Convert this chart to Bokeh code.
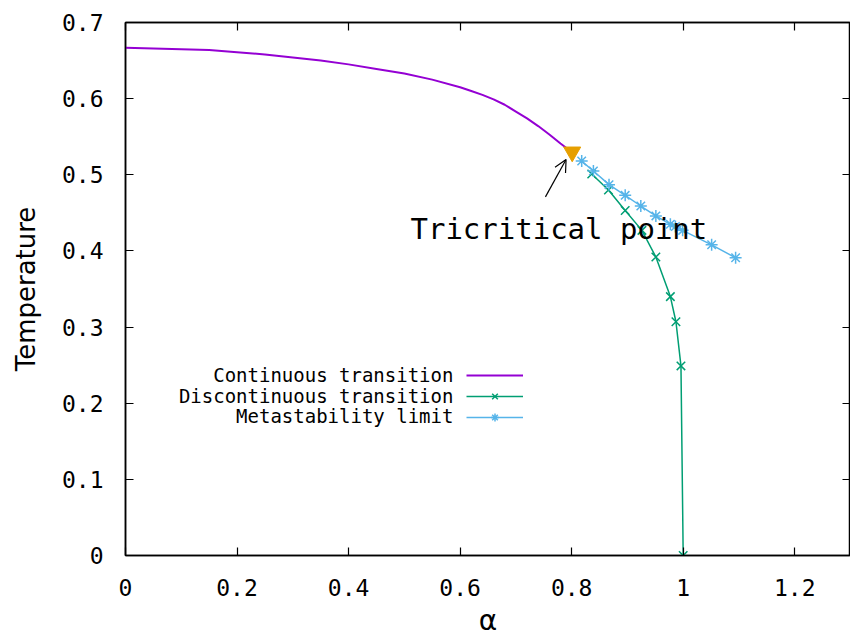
from bokeh.plotting import figure
from bokeh.models import (Range1d, LinearAxis, FixedTicker, Legend, LegendItem,
                          Label, Arrow, OpenHead)
from bokeh.embed import file_html
from bokeh.resources import INLINE

# Phase boundary data
cont_alpha = [0.0, 0.05, 0.1, 0.15, 0.2, 0.25, 0.3, 0.35, 0.4, 0.45, 0.5, 0.55,
              0.6, 0.62, 0.64, 0.66, 0.68, 0.7, 0.72, 0.74, 0.76, 0.78, 0.79, 0.8]
cont_temp = [0.667, 0.666, 0.665, 0.664, 0.661, 0.658, 0.654, 0.650, 0.645, 0.639,
             0.633, 0.625, 0.615, 0.610, 0.605, 0.599, 0.592, 0.583, 0.574, 0.564,
             0.553, 0.541, 0.5355, 0.530]

disc_alpha = [0.836, 0.866, 0.896, 0.926, 0.951, 0.977, 0.987, 0.996, 1.0]
disc_temp = [0.501, 0.480, 0.453, 0.427, 0.392, 0.340, 0.307, 0.249, 0.0]

meta_alpha = [0.818, 0.839, 0.867, 0.896, 0.924, 0.951, 0.977, 0.986, 0.999, 1.051, 1.094]
meta_temp = [0.518, 0.505, 0.487, 0.473, 0.459, 0.446, 0.435, 0.432, 0.427, 0.408, 0.391]

tri_alpha = [0.801]
tri_temp = [0.530]

x_ticks = [0, 0.2, 0.4, 0.6, 0.8, 1.0, 1.2]
x_tick_labels = ["0", "0.2", "0.4", "0.6", "0.8", "1", "1.2"]
y_ticks = [0, 0.1, 0.2, 0.3, 0.4, 0.5, 0.6, 0.7]
y_tick_labels = ["0", "0.1", "0.2", "0.3", "0.4", "0.5", "0.6", "0.7"]

series_names = ["Continuous transition", "Discontinuous transition", "Metastability limit"]

PURPLE = "#9400d3"
GREEN = "#009e73"
BLUE = "#56b4e9"
ORANGE = "#e69f00"
MONO = "DejaVu Sans Mono"

p = figure(width=850, height=644, output_backend="svg", toolbar_location=None,
           x_range=Range1d(0, 1.3), y_range=Range1d(0, 0.7),
           min_border_left=125, min_border_right=0, min_border_top=22,
           min_border_bottom=89, x_axis_label="α", y_axis_label="Temperature")
p.xgrid.visible = False
p.ygrid.visible = False
p.outline_line_color = "black"
p.outline_line_width = 1.5
p.outline_line_alpha = 1.0
p.background_fill_color = "white"
p.border_fill_color = "white"


def style_axis(ax, ticks, labels, show_labels=True):
    ax.ticker = FixedTicker(ticks=ticks)
    ax.major_tick_in = 8
    ax.major_tick_out = 0
    ax.minor_tick_in = 0
    ax.minor_tick_out = 0
    ax.major_tick_line_color = "black"
    ax.major_tick_line_width = 1.2
    ax.axis_line_color = "black"
    ax.axis_line_width = 1.5
    if show_labels:
        ax.major_label_overrides = {t: l for t, l in zip(ticks, labels)}
        ax.major_label_text_font = MONO
        ax.major_label_text_font_size = "23px"
        ax.major_label_text_color = "black"
    else:
        # tick marks only, no label text at all
        ax.major_label_text_color = None
        ax.major_label_text_alpha = 0
        ax.major_label_text_font_size = "0px"
        ax.major_label_standoff = 0


xa = p.xaxis[0]
ya = p.yaxis[0]
style_axis(xa, x_ticks, x_tick_labels)
style_axis(ya, y_ticks, y_tick_labels)
xa.major_label_standoff = 23
ya.major_label_standoff = 22
xa.axis_label_text_font = "DejaVu Sans"
xa.axis_label_text_font_size = "28px"
xa.axis_label_text_font_style = "normal"
xa.axis_label_text_color = "black"
xa.axis_label_standoff = 5
ya.axis_label_text_font = "DejaVu Sans"
ya.axis_label_text_font_size = "26px"
ya.axis_label_text_font_style = "normal"
ya.axis_label_text_color = "black"
ya.axis_label_standoff = 18

# mirrored ticks on top and right
top_ax = LinearAxis()
right_ax = LinearAxis()
style_axis(top_ax, x_ticks, x_tick_labels, show_labels=False)
style_axis(right_ax, y_ticks, y_tick_labels, show_labels=False)
p.add_layout(top_ax, "above")
p.add_layout(right_ax, "right")

# curves
r_cont = p.line(cont_alpha, cont_temp, line_color=PURPLE, line_width=2)

r_disc_l = p.line(disc_alpha, disc_temp, line_color=GREEN, line_width=1.5)
r_disc_m = p.scatter(disc_alpha, disc_temp, marker="x", size=12,
                     line_color=GREEN, line_width=1.5)

r_meta_l = p.line(meta_alpha, meta_temp, line_color=BLUE, line_width=1.5)
r_meta_m = p.scatter(meta_alpha, meta_temp, marker="asterisk", size=12,
                     line_color=BLUE, line_width=1.5)

p.scatter(tri_alpha, tri_temp, marker="inverted_triangle", size=17,
          fill_color=ORANGE, line_color=ORANGE)

# annotation for the tricritical point
p.add_layout(Arrow(x_start=0.753, y_start=0.471, x_end=0.790, y_end=0.520,
                   line_color="black", line_width=1.2,
                   end=OpenHead(size=12, line_color="black", line_width=1.2)))
p.add_layout(Label(x=0.511, y=0.429, text="Tricritical point", text_font=MONO,
                   text_font_size="29px", text_color="black",
                   text_align="left", text_baseline="middle"))

# key: right-aligned text with line samples to its right
legend = Legend(items=[
    LegendItem(label="", renderers=[r_cont]),
    LegendItem(label="", renderers=[r_disc_l, r_disc_m]),
    LegendItem(label="", renderers=[r_meta_l, r_meta_m]),
], location=(341, 128), orientation="vertical", glyph_width=57, glyph_height=20,
    label_width=0, label_standoff=0, label_text_font_size="1px",
    label_text_color=None, label_text_alpha=0, padding=0,
    margin=0, spacing=1, border_line_alpha=0, background_fill_alpha=0)
p.add_layout(legend)

key_y = [0.237, 0.210, 0.183]
for name, ky in zip(series_names, key_y):
    p.add_layout(Label(x=0.588, y=ky, text=name, text_font=MONO,
                       text_font_size="19px", text_color="black",
                       text_align="right", text_baseline="middle"))

open("out.html", "w").write(file_html(p, INLINE))
